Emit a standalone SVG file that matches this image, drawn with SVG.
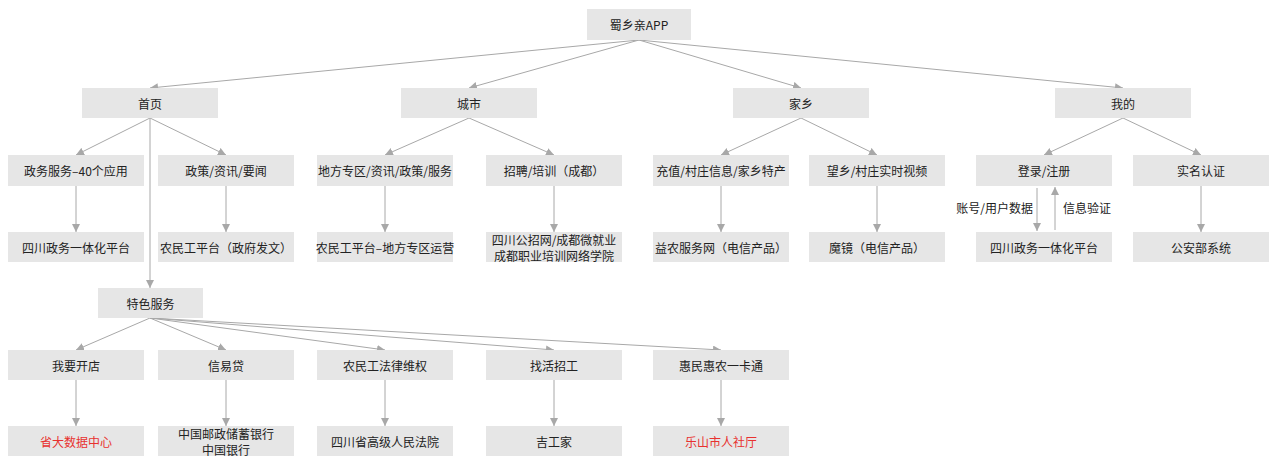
<svg xmlns="http://www.w3.org/2000/svg" width="1280" height="464" viewBox="0 0 1280 464">
<style>
.b{fill:#e6e6e6}
text{font-family:"Noto Sans CJK SC","Liberation Sans",sans-serif;font-size:12px;fill:#222;text-anchor:middle;dominant-baseline:central}
.r{fill:#e8312f}
.c line{stroke:#a8a8a8;stroke-width:1;marker-end:url(#a)}
</style>
<defs><marker id="a" viewBox="0 0 10 10" refX="10" refY="5" markerWidth="8" markerHeight="8" markerUnits="userSpaceOnUse" orient="auto"><path d="M0,0L10,5L0,10z" fill="#a8a8a8"/></marker></defs>
<rect width="1280" height="464" fill="#fff"/>
<g class="c">
<line x1="639" y1="40" x2="150" y2="88"/>
<line x1="639" y1="40" x2="469" y2="88"/>
<line x1="639" y1="40" x2="801" y2="88"/>
<line x1="639" y1="40" x2="1123" y2="88"/>
<line x1="150" y1="118" x2="76" y2="155"/>
<line x1="150" y1="118" x2="226" y2="155"/>
<line x1="150" y1="118" x2="150" y2="288"/>
<line x1="469" y1="118" x2="385" y2="155"/>
<line x1="469" y1="118" x2="554" y2="155"/>
<line x1="801" y1="118" x2="721" y2="155"/>
<line x1="801" y1="118" x2="877" y2="155"/>
<line x1="1123" y1="118" x2="1044" y2="155"/>
<line x1="1123" y1="118" x2="1201" y2="155"/>
<line x1="76" y1="186" x2="76" y2="232"/>
<line x1="226" y1="186" x2="226" y2="232"/>
<line x1="385" y1="186" x2="385" y2="232"/>
<line x1="554" y1="186" x2="554" y2="232"/>
<line x1="721" y1="186" x2="721" y2="232"/>
<line x1="877" y1="186" x2="877" y2="232"/>
<line x1="1037" y1="188" x2="1037" y2="231"/>
<line x1="1055" y1="230" x2="1055" y2="187"/>
<line x1="1201" y1="186" x2="1201" y2="232"/>
<line x1="150" y1="318" x2="76" y2="350"/>
<line x1="150" y1="318" x2="226" y2="350"/>
<line x1="150" y1="318" x2="385" y2="350"/>
<line x1="150" y1="318" x2="554" y2="350"/>
<line x1="150" y1="318" x2="721" y2="350"/>
<line x1="76" y1="380" x2="76" y2="426"/>
<line x1="226" y1="380" x2="226" y2="426"/>
<line x1="385" y1="380" x2="385" y2="426"/>
<line x1="554" y1="380" x2="554" y2="426"/>
<line x1="721" y1="380" x2="721" y2="426"/>
</g>
<text x="1033" y="207" style="text-anchor:end">账号/用户数据</text>
<text x="1063" y="207" style="text-anchor:start">信息验证</text>
<g id="root"><rect class="b" x="587" y="9" width="104" height="31"/><text x="639" y="24.5">蜀乡亲APP</text></g>
<g id="n1"><rect class="b" x="82" y="88" width="136" height="30"/><text x="150" y="103">首页</text></g>
<g id="n2"><rect class="b" x="401" y="88" width="136" height="30"/><text x="469" y="103">城市</text></g>
<g id="n3"><rect class="b" x="733" y="88" width="136" height="30"/><text x="801" y="103">家乡</text></g>
<g id="n4"><rect class="b" x="1055" y="88" width="136" height="30"/><text x="1123" y="103">我的</text></g>
<g id="a1"><rect class="b" x="8" y="155" width="136" height="31"/><text x="76" y="170.5">政务服务–40个应用</text></g>
<g id="a2"><rect class="b" x="158" y="155" width="136" height="31"/><text x="226" y="170.5">政策/资讯/要闻</text></g>
<g id="a3"><rect class="b" x="317" y="155" width="136" height="31"/><text x="385" y="170.5">地方专区/资讯/政策/服务</text></g>
<g id="a4"><rect class="b" x="486" y="155" width="136" height="31"/><text x="554" y="170.5">招聘/培训（成都）</text></g>
<g id="a5"><rect class="b" x="653" y="155" width="136" height="31"/><text x="721" y="170.5">充值/村庄信息/家乡特产</text></g>
<g id="a6"><rect class="b" x="809" y="155" width="136" height="31"/><text x="877" y="170.5">望乡/村庄实时视频</text></g>
<g id="a7"><rect class="b" x="976" y="155" width="136" height="31"/><text x="1044" y="170.5">登录/注册</text></g>
<g id="a8"><rect class="b" x="1133" y="155" width="136" height="31"/><text x="1201" y="170.5">实名认证</text></g>
<g id="b1"><rect class="b" x="8" y="232" width="136" height="30"/><text x="76" y="247">四川政务一体化平台</text></g>
<g id="b2"><rect class="b" x="158" y="232" width="136" height="30"/><text x="226" y="247">农民工平台（政府发文）</text></g>
<g id="b3"><rect class="b" x="317" y="232" width="136" height="30"/><text x="385" y="247">农民工平台–地方专区运营</text></g>
<g id="b4"><rect class="b" x="486" y="232" width="136" height="30"/><text x="554" y="239">四川公招网/成都微就业</text><text x="554" y="255">成都职业培训网络学院</text></g>
<g id="b5"><rect class="b" x="653" y="232" width="136" height="30"/><text x="721" y="247">益农服务网（电信产品）</text></g>
<g id="b6"><rect class="b" x="809" y="232" width="136" height="30"/><text x="877" y="247">魔镜（电信产品）</text></g>
<g id="b7"><rect class="b" x="976" y="232" width="136" height="30"/><text x="1044" y="247">四川政务一体化平台</text></g>
<g id="b8"><rect class="b" x="1133" y="232" width="136" height="30"/><text x="1201" y="247">公安部系统</text></g>
<g id="ts"><rect class="b" x="98" y="288" width="105" height="30"/><text x="150.5" y="303">特色服务</text></g>
<g id="c1"><rect class="b" x="8" y="350" width="136" height="30"/><text x="76" y="365">我要开店</text></g>
<g id="c2"><rect class="b" x="158" y="350" width="136" height="30"/><text x="226" y="365">信易贷</text></g>
<g id="c3"><rect class="b" x="317" y="350" width="136" height="30"/><text x="385" y="365">农民工法律维权</text></g>
<g id="c4"><rect class="b" x="486" y="350" width="136" height="30"/><text x="554" y="365">找活招工</text></g>
<g id="c5"><rect class="b" x="653" y="350" width="136" height="30"/><text x="721" y="365">惠民惠农一卡通</text></g>
<g id="d1"><rect class="b" x="8" y="426" width="136" height="30"/><text class="r" x="76" y="441">省大数据中心</text></g>
<g id="d2"><rect class="b" x="158" y="426" width="136" height="30"/><text x="226" y="433">中国邮政储蓄银行</text><text x="226" y="449">中国银行</text></g>
<g id="d3"><rect class="b" x="317" y="426" width="136" height="30"/><text x="385" y="441">四川省高级人民法院</text></g>
<g id="d4"><rect class="b" x="486" y="426" width="136" height="30"/><text x="554" y="441">吉工家</text></g>
<g id="d5"><rect class="b" x="653" y="426" width="136" height="30"/><text class="r" x="721" y="441">乐山市人社厅</text></g>
</svg>
